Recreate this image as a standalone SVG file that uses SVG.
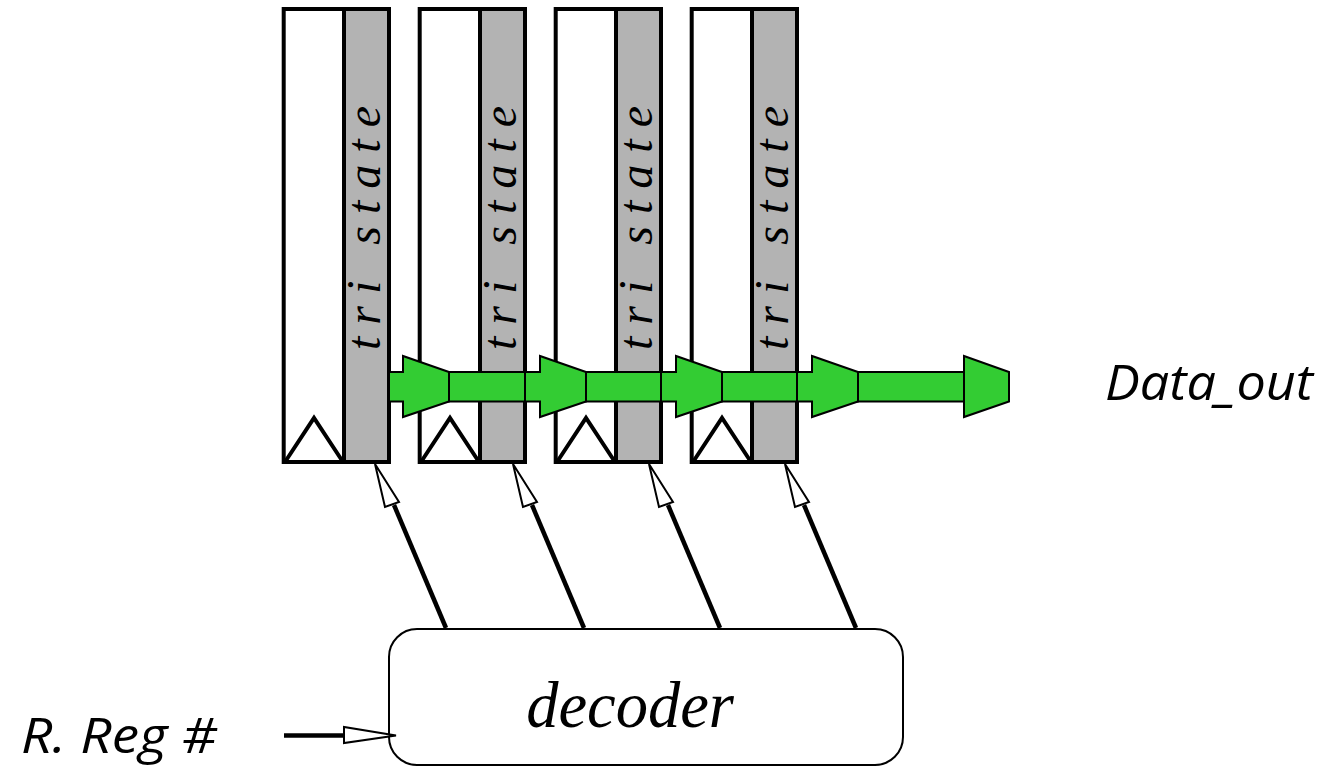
<svg xmlns="http://www.w3.org/2000/svg" width="1331" height="771" viewBox="0 0 1331 771">
<style>
.box{fill:#fff;stroke:#000;stroke-width:4}
.ts{fill:#b3b3b3;stroke:#000;stroke-width:4}
.clk{fill:none;stroke:#000;stroke-width:4;stroke-linejoin:miter}
.ttxt{font-family:"Liberation Serif",serif;font-style:italic;font-size:48px;fill:#000}
.hand{font-family:"Open Sans",sans-serif;font-style:italic;font-size:50px;fill:#000}
.bus{fill:#33cc33;stroke:#000;stroke-width:2;stroke-linejoin:miter}
.wire{fill:none;stroke:#000;stroke-width:4.500}
.hd{fill:#fff;stroke:#000;stroke-width:2}
</style>
<defs>
<g id="reg">
<rect class="box" x="283.700" y="9" width="60.300" height="453"/>
<rect class="ts" x="344" y="9" width="45" height="453"/>
<path class="clk" d="M285 462L314 418L343 462"/>
<text class="ttxt" transform="translate(380 350) rotate(-90)" textLength="244" lengthAdjust="spacing">tri state</text>
</g>
<g id="ctl">
<path class="wire" d="M446 628L394 505"/>
<path class="hd" d="M375 464L399 502L385 507Z"/>
</g>
</defs>
<g id="register-1"><use href="#reg"/></g>
<g id="register-2"><use href="#reg" x="136"/></g>
<g id="register-3"><use href="#reg" x="272"/></g>
<g id="register-4"><use href="#reg" x="408"/></g>
<g id="decoder">
<rect x="389" y="629" width="514" height="136" rx="28" ry="28" fill="#fff" stroke="#000" stroke-width="2"/>
<text x="630" y="727" font-family="Liberation Serif, serif" font-style="italic" font-size="64.500" text-anchor="middle">decoder</text>
</g>
<g id="connectors">
<use href="#ctl"/>
<use href="#ctl" x="138"/>
<use href="#ctl" x="274"/>
<use href="#ctl" x="410"/>
<path class="wire" d="M284 735.500H345"/>
<path class="hd" d="M344 727V743L396 735.500Z"/>
<path class="bus" d="M389 372H403V356L449 372V401.500L403 417V401.500H389Z"/>
<path class="bus" d="M449 372H525V401.500H449Z"/>
<path class="bus" d="M525 372H540V356L586 372V401.500L540 417V401.500H525Z"/>
<path class="bus" d="M586 372H661V401.500H586Z"/>
<path class="bus" d="M661 372H676V356L722 372V401.500L676 417V401.500H661Z"/>
<path class="bus" d="M722 372H797V401.500H722Z"/>
<path class="bus" d="M797 372H812V356L858 372V401.500L812 417V401.500H797Z"/>
<path class="bus" d="M858 372H964V401.500H858Z"/>
<path class="bus" d="M964 356L1009 372V401.500L964 417Z"/>
</g>
<g id="label-data-out"><text class="hand" x="1105" y="400" textLength="208" lengthAdjust="spacingAndGlyphs">Data_out</text></g>
<g id="label-r-reg"><text class="hand" x="21" y="753" textLength="196" lengthAdjust="spacingAndGlyphs">R. Reg #</text></g>
</svg>
